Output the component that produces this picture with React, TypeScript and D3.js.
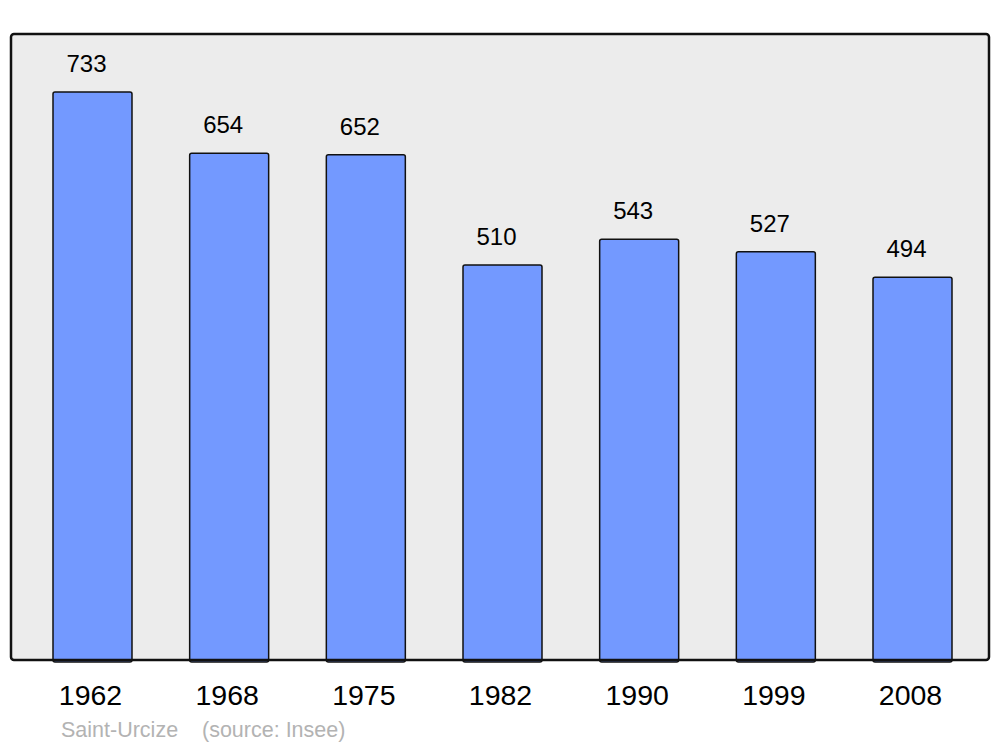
import React from "react";
import * as d3 from "d3";

const years = ["1962", "1968", "1975", "1982", "1990", "1999", "2008"];
const population = [733, 654, 652, 510, 543, 527, 494];
const commune = "Saint-Urcize";
const source = "(source: Insee)";

export default function App() {
  const W = 1000;
  const H = 747;
  const panel = { x0: 11, x1: 989, y0: 34, y1: 660 };
  const x = d3.scaleBand<string>().domain(years).range([53, 952]).paddingInner(0.422).paddingOuter(0);
  const y = d3.scaleLinear().domain([0, 808]).range([panel.y1, panel.y0]);
  const font = "'Liberation Sans', Arial, sans-serif";
  return (
    <svg width={W} height={H} style={{ position: "absolute", left: 0, top: 0, background: "#fff" }}>
      <rect x={panel.x0} y={panel.y0} width={panel.x1 - panel.x0} height={panel.y1 - panel.y0}
        fill="#ececec" stroke="none" rx={3} />
      {years.map((yr, i) => {
        const bx = x(yr)!;
        const top = y(population[i]);
        return (
          <g key={yr}>
            <rect x={bx} y={top} width={x.bandwidth()} height={panel.y1 - top + 2}
              fill="#7399ff" stroke="#111" strokeWidth={1.5} rx={2} />
            <text x={bx + x.bandwidth() / 2 - 6} y={top - 20} textAnchor="middle"
              fontFamily={font} fontSize={24} fill="#000">{population[i]}</text>
            <text x={bx + x.bandwidth() / 2 - 2} y={705} textAnchor="middle"
              fontFamily={font} fontSize={28.5} fill="#000">{yr}</text>
          </g>
        );
      })}
      <rect x={panel.x0} y={panel.y0} width={panel.x1 - panel.x0} height={panel.y1 - panel.y0}
        fill="none" stroke="#111" strokeWidth={2.5} rx={3} />
      <text x={61} y={737} fontFamily={font} fontSize={21.5} fill="#b3b3b3">{commune}</text>
      <text x={202} y={737} fontFamily={font} fontSize={21.5} fill="#b3b3b3">{source}</text>
    </svg>
  );
}
